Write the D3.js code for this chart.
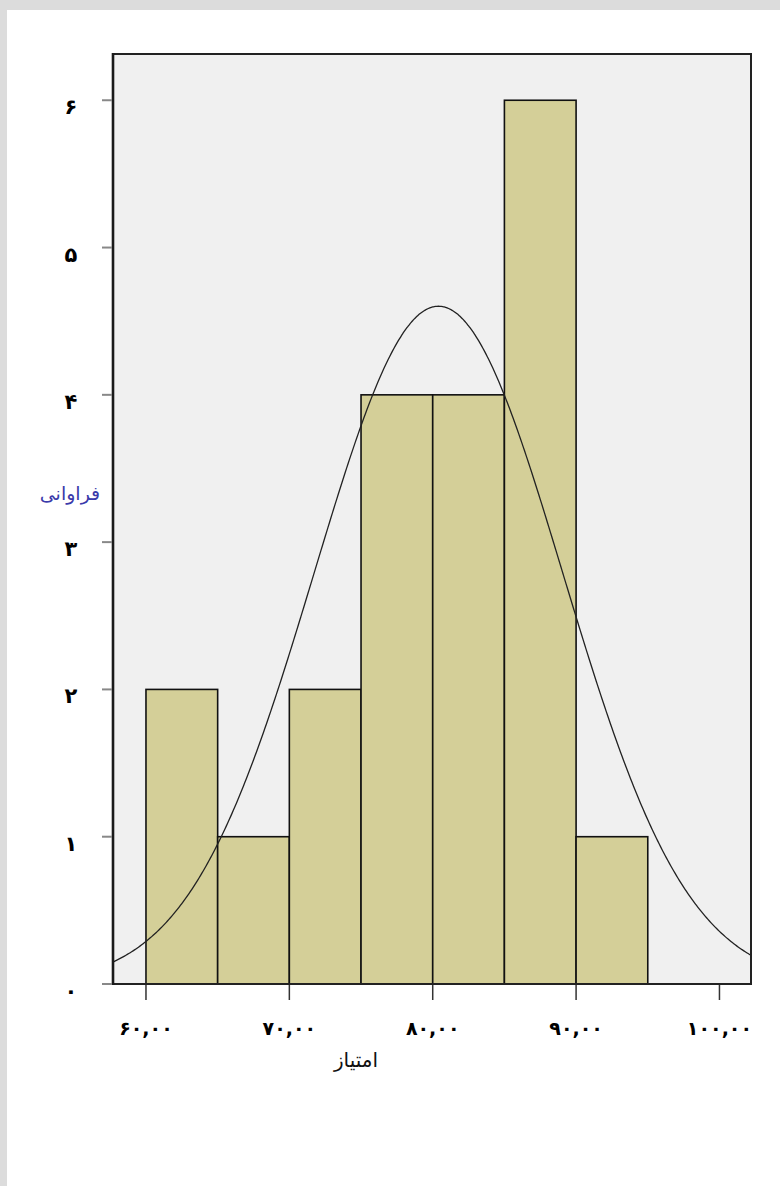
<!DOCTYPE html>
<html><head><meta charset="utf-8">
<script src="https://cdn.jsdelivr.net/npm/d3@7"></script>
<style>body{margin:0;background:#fff;} svg{display:block}</style>
</head><body>
<script>
// Score histogram (bins of width 5) with fitted normal curve
const binStarts = [60, 65, 70, 75, 80, 85, 90];
const binWidth = 5;
const counts = [2, 1, 2, 4, 4, 6, 1];
const yTicks = [0, 1, 2, 3, 4, 5, 6];
const yTickLabels = ["۰", "۱", "۲", "۳", "۴", "۵", "۶"];
const xTicks = [60, 70, 80, 90, 100];
const xTickLabels = ["۶۰,۰۰", "۷۰,۰۰", "۸۰,۰۰", "۹۰,۰۰", "۱۰۰,۰۰"];
const fitMean = 80.4, fitSd = 8.67;
const yTitle = "فراوانی";
const xTitle = "امتیاز";

const W = 780, H = 1186;
const L = 113, R = 751, T = 54, B = 984;
const font = "'DejaVu Sans', sans-serif";

const svg = d3.select("body").append("svg").attr("width", W).attr("height", H);

// page frame
svg.append("rect").attr("width", W).attr("height", H).attr("fill", "#fff");
svg.append("rect").attr("width", W).attr("height", 10).attr("fill", "#dcdcdc");
svg.append("rect").attr("width", 7).attr("height", H).attr("fill", "#dcdcdc");

const x = d3.scaleLinear().domain([57.7, 102.2]).range([L, R]);
const y = d3.scaleLinear().domain([0, 6.314]).range([B, T]);

// plot area
svg.append("rect").attr("x", L).attr("y", T).attr("width", R - L).attr("height", B - T)
  .attr("fill", "#f0f0f0");

svg.append("defs").append("clipPath").attr("id", "plotClip")
  .append("rect").attr("x", L).attr("y", T).attr("width", R - L).attr("height", B - T);

// bars
const total = d3.sum(counts);
svg.append("g").selectAll("rect").data(binStarts).join("rect")
  .attr("x", d => x(d))
  .attr("y", (d, i) => y(counts[i]))
  .attr("width", d => x(d + binWidth) - x(d))
  .attr("height", (d, i) => y(0) - y(counts[i]))
  .attr("fill", "#d4cf98")
  .attr("stroke", "#111")
  .attr("stroke-width", 1.6);

// fitted normal curve scaled to counts per bin
const pts = d3.range(57.7, 102.21, 0.1).map(v => {
  const z = (v - fitMean) / fitSd;
  return [v, total * binWidth * Math.exp(-0.5 * z * z) / (fitSd * Math.sqrt(2 * Math.PI))];
});
svg.append("path").datum(pts)
  .attr("clip-path", "url(#plotClip)")
  .attr("d", d3.line().x(d => x(d[0])).y(d => y(d[1])).curve(d3.curveBasis))
  .attr("fill", "none").attr("stroke", "#222").attr("stroke-width", 1.3);

// frame lines
svg.append("path")
  .attr("d", `M${L},${T}H${R}V${B}H${L}`)
  .attr("fill", "none").attr("stroke", "#222").attr("stroke-width", 2);
svg.append("line").attr("x1", L).attr("x2", L).attr("y1", T - 1).attr("y2", B + 1)
  .attr("stroke", "#1a1a1a").attr("stroke-width", 2.6);

// y ticks & labels
svg.append("g").selectAll("line").data(yTicks).join("line")
  .attr("x1", 102).attr("x2", L - 1)
  .attr("y1", d => y(d)).attr("y2", d => y(d))
  .attr("stroke", "#888").attr("stroke-width", 2);
svg.append("g").selectAll("text").data(yTicks).join("text")
  .attr("x", 71).attr("y", d => y(d) + 7)
  .attr("text-anchor", "middle").attr("dominant-baseline", "central")
  .attr("font-family", font).attr("font-weight", "bold").attr("font-size", 21)
  .attr("fill", "#000")
  .text((d, i) => yTickLabels[i]);

// x ticks & labels
svg.append("g").selectAll("line").data(xTicks).join("line")
  .attr("x1", d => x(d)).attr("x2", d => x(d))
  .attr("y1", B + 1).attr("y2", 1000)
  .attr("stroke", "#333").attr("stroke-width", 1.5);
svg.append("g").selectAll("text").data(xTicks).join("text")
  .attr("x", d => x(d)).attr("y", 1028)
  .attr("text-anchor", "middle").attr("dominant-baseline", "central")
  .attr("font-family", font).attr("font-weight", "bold").attr("font-size", 19)
  .attr("letter-spacing", 4)
  .attr("fill", "#000")
  .text((d, i) => xTickLabels[i]);

// axis titles
svg.append("text").attr("x", 70).attr("y", 493)
  .attr("text-anchor", "middle").attr("dominant-baseline", "central")
  .attr("font-family", font).attr("font-size", 19).attr("fill", "#3a3aaa")
  .text(yTitle);
svg.append("text").attr("x", 356).attr("y", 1060)
  .attr("text-anchor", "middle").attr("dominant-baseline", "central")
  .attr("font-family", font).attr("font-size", 20).attr("fill", "#111")
  .text(xTitle);
</script>
</body></html>
